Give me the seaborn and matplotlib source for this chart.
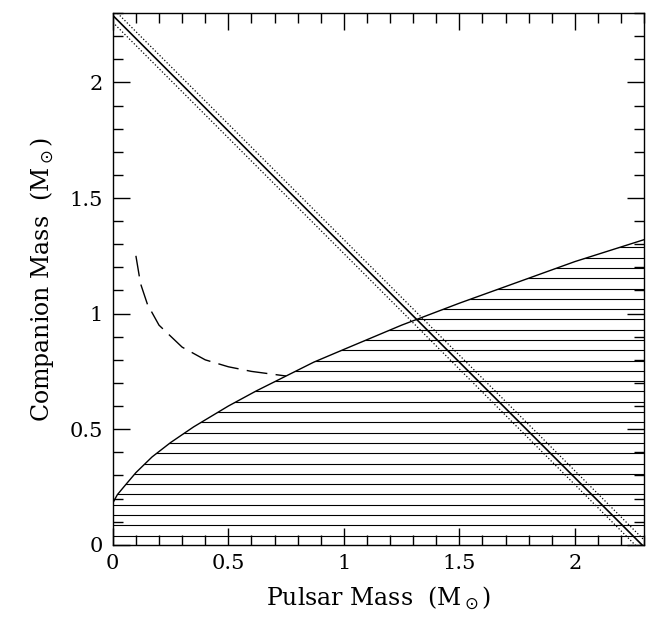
import numpy as np
import matplotlib
matplotlib.use("Agg")
import matplotlib.pyplot as plt
import seaborn as sns
from matplotlib.patches import Polygon

# mass function limit curve
mp_curve = [0.0, 0.01, 0.02, 0.05, 0.1, 0.17, 0.25, 0.35, 0.5, 0.62, 0.75, 0.87, 1.0,
            1.25, 1.5, 1.75, 2.0, 2.3]
mc_curve = [0.18, 0.199, 0.217, 0.253, 0.312, 0.38, 0.442, 0.51, 0.60, 0.665, 0.73, 0.79, 0.845,
            0.95, 1.045, 1.135, 1.225, 1.32]

# total mass line and its uncertainty
mp_line = [0.0, 2.3]
mc_line = [2.29, -0.01]
mc_line_lo = [2.26, -0.04]
mc_line_hi = [2.32, 0.02]

# dashed constraint
mp_dash = [0.1, 0.12, 0.15, 0.2, 0.3, 0.4, 0.5, 0.6, 0.75]
mc_dash = [1.25, 1.13, 1.04, 0.95, 0.855, 0.80, 0.77, 0.75, 0.73]

sns.set_theme(style="ticks")
plt.rcParams['font.family'] = ['DejaVu Serif']
fig, ax = plt.subplots(figsize=(6.52, 6.24), dpi=100)
fig.subplots_adjust(left=0.173, right=0.988, bottom=0.127, top=0.979)

sns.lineplot(x=mp_curve, y=mc_curve, color='black', lw=1, ax=ax)
sns.lineplot(x=mp_line, y=mc_line, color='black', lw=1.2, ax=ax)
sns.lineplot(x=mp_line, y=mc_line_lo, color='black', lw=0.9, ls=':', ax=ax)
sns.lineplot(x=mp_line, y=mc_line_hi, color='black', lw=0.9, ls=':', ax=ax)
ax.plot(mp_dash, mc_dash, color='black', lw=1, dashes=(15, 6))

# hatching of the excluded region
verts = list(zip(mp_curve, mc_curve)) + [(2.3, 0), (0, 0)]
poly = Polygon(verts, closed=True, fill=False, edgecolor='none')
ax.add_patch(poly)
levels = np.arange(0.04, 1.4, 0.0445)
hl = ax.hlines(levels, 0, 2.3, colors='black', lw=0.8)
hl.set_clip_path(poly)

ax.set_xlim(0, 2.3)
ax.set_ylim(0, 2.3)
ax.set_xticks([0, 0.5, 1, 1.5, 2])
ax.set_xticklabels(['0', '0.5', '1', '1.5', '2'])
ax.set_yticks([0, 0.5, 1, 1.5, 2])
ax.set_yticklabels(['0', '0.5', '1', '1.5', '2'])
ax.set_xticks(np.arange(0, 2.31, 0.1), minor=True)
ax.set_yticks(np.arange(0, 2.31, 0.1), minor=True)
ax.tick_params(which='both', direction='in', top=True, right=True, colors='black',
               labelcolor='black', labelsize=15, pad=7)
ax.tick_params(which='major', length=12.5, width=1)
ax.tick_params(which='minor', length=7, width=1)
for s in ax.spines.values():
    s.set_color('black')
    s.set_linewidth(1)
ax.set_xlabel(r'Pulsar Mass  (M$_\odot$)', fontsize=17, color='black', labelpad=8)
ax.set_ylabel(r'Companion Mass  (M$_\odot$)', fontsize=17, color='black', labelpad=10)

fig.savefig('out.png', dpi=100)
